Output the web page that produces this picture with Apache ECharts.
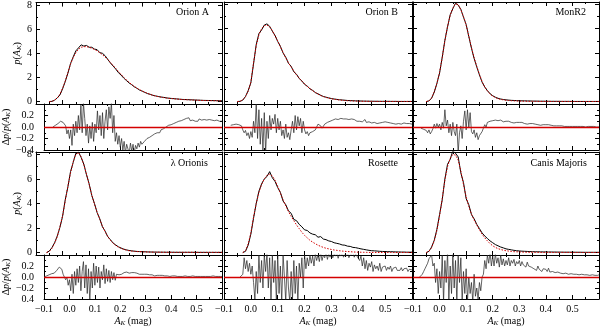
<!DOCTYPE html>
<html>
<head>
<meta charset="utf-8">
<script src="https://cdn.jsdelivr.net/npm/echarts@6/dist/echarts.min.js"></script>
<style>
html, body { margin: 0; padding: 0; background: #fff; }
#chart { width: 600px; height: 328px; }
</style>
</head>
<body>
<div id="chart"></div>
<script>
// extinction grid for the pdf panels (step 0.01)
var ak = [
  -0.1, -0.09, -0.08, -0.07, -0.06, -0.05, -0.04, -0.03, -0.02, -0.01,
  0, 0.01, 0.02, 0.03, 0.04, 0.05, 0.06, 0.07, 0.08, 0.09,
  0.1, 0.11, 0.12, 0.13, 0.14, 0.15, 0.16, 0.17, 0.18, 0.19,
  0.2, 0.21, 0.22, 0.23, 0.24, 0.25, 0.26, 0.27, 0.28, 0.29,
  0.3, 0.31, 0.32, 0.33, 0.34, 0.35, 0.36, 0.37, 0.38, 0.39,
  0.4, 0.41, 0.42, 0.43, 0.44, 0.45, 0.46, 0.47, 0.48, 0.49,
  0.5, 0.51, 0.52, 0.53, 0.54, 0.55, 0.56, 0.57, 0.58, 0.59,
  0.6
];
// extinction grid for the residual panels (step 0.005)
var akRes = [
  -0.1, -0.095, -0.09, -0.085, -0.08, -0.075, -0.07, -0.065, -0.06, -0.055,
  -0.05, -0.045, -0.04, -0.035, -0.03, -0.025, -0.02, -0.015, -0.01, -0.005,
  0, 0.005, 0.01, 0.015, 0.02, 0.025, 0.03, 0.035, 0.04, 0.045,
  0.05, 0.055, 0.06, 0.065, 0.07, 0.075, 0.08, 0.085, 0.09, 0.095,
  0.1, 0.105, 0.11, 0.115, 0.12, 0.125, 0.13, 0.135, 0.14, 0.145,
  0.15, 0.155, 0.16, 0.165, 0.17, 0.175, 0.18, 0.185, 0.19, 0.195,
  0.2, 0.205, 0.21, 0.215, 0.22, 0.225, 0.23, 0.235, 0.24, 0.245,
  0.25, 0.255, 0.26, 0.265, 0.27, 0.275, 0.28, 0.285, 0.29, 0.295,
  0.3, 0.305, 0.31, 0.315, 0.32, 0.325, 0.33, 0.335, 0.34, 0.345,
  0.35, 0.355, 0.36, 0.365, 0.37, 0.375, 0.38, 0.385, 0.39, 0.395,
  0.4, 0.405, 0.41, 0.415, 0.42, 0.425, 0.43, 0.435, 0.44, 0.445,
  0.45, 0.455, 0.46, 0.465, 0.47, 0.475, 0.48, 0.485, 0.49, 0.495,
  0.5, 0.505, 0.51, 0.515, 0.52, 0.525, 0.53, 0.535, 0.54, 0.545,
  0.55, 0.555, 0.56, 0.565, 0.57, 0.575, 0.58, 0.585, 0.59, 0.595,
  0.6
];

var names = ["Orion A", "Orion B", "MonR2", "\u03bb Orionis", "Rosette", "Canis Majoris"];

// ---- Orion A
var oriAData = [
  null, null, null, null, null, 0, 0.02, 0.12, 0.3, 0.55,
  1.05, 1.65, 2.35, 3.15, 3.7, 4.2, 4.45, 4.7, 4.6, 4.65,
  4.5, 4.5, 4.35, 4.3, 4.05, 4.0, 3.8, 3.5, 3.2, 2.95,
  2.7, 2.4, 2.2, 1.95, 1.75, 1.55, 1.4, 1.22, 1.1, 0.95,
  0.86, 0.76, 0.66, 0.6, 0.52, 0.47, 0.42, 0.38, 0.35, 0.31,
  0.28, 0.26, 0.24, 0.22, 0.2, 0.18, 0.17, 0.16, 0.15, 0.14,
  0.13, 0.12, 0.11, 0.1, 0.095, 0.09, 0.085, 0.08, 0.075, 0.07,
  0.065
];
var oriAFit = [
  null, null, null, null, null, 0, 0.02, 0.1, 0.3, 0.6,
  1.1, 1.7, 2.4, 3.1, 3.65, 4.05, 4.35, 4.5, 4.55, 4.55,
  4.5, 4.42, 4.32, 4.2, 4.05, 3.88, 3.7, 3.48, 3.25, 3.0,
  2.75, 2.5, 2.26, 2.02, 1.8, 1.6, 1.42, 1.26, 1.11, 0.98,
  0.87, 0.77, 0.68, 0.59, 0.52, 0.46, 0.41, 0.37, 0.33, 0.3,
  0.27, 0.25, 0.23, 0.21, 0.19, 0.17, 0.16, 0.15, 0.14, 0.13,
  0.12, 0.11, 0.1, 0.09, 0.085, 0.08, 0.075, 0.07, 0.065, 0.06,
  0.055
];
var oriARes = [
  null, null, null, null, null, null, null, 0, 0.02, 0.03,
  0.05, 0.06, 0.08, 0.1, 0.12, 0.08, 0.1, 0.02, -0.12, -0.05,
  -0.2, -0.05, -0.32, 0.05, -0.15, 0.1, -0.1, 0.2, -0.05, 0.38,
  -0.1, 0.42, 0.15, -0.15, 0.05, -0.28, 0.02, -0.2, 0.08, -0.25,
  0.05, -0.1, 0.28, -0.05, 0.2, -0.15, 0.25, -0.2, 0.1, 0.3,
  -0.05, 0.35, 0.15, 0.42, -0.1, 0.2, -0.25, -0.1, -0.3, -0.15,
  -0.35, -0.2, -0.4, -0.25, -0.45, -0.3, -0.38, -0.45, -0.28, -0.42,
  -0.3, -0.45, -0.32, -0.38, -0.28, -0.35, -0.25, -0.3, -0.28, -0.25,
  -0.25, -0.2, -0.22, -0.18, -0.2, -0.15, -0.17, -0.12, -0.14, -0.1,
  -0.08, -0.1, -0.05, -0.07, -0.03, -0.05, 0, -0.02, 0.03, 0.01,
  0.04, 0.02, 0.06, 0.04, 0.08, 0.05, 0.1, 0.07, 0.11, 0.09,
  0.13, 0.1, 0.15, 0.12, 0.16, 0.11, 0.14, 0.12, 0.15, 0.1,
  0.13, 0.1, 0.14, 0.11, 0.12, 0.09, 0.13, 0.1, 0.12, 0.11,
  0.13, 0.1, 0.12, 0.09, 0.11, 0.1, 0.12, 0.09, 0.1, 0.11,
  0.1
];

// ---- Orion B
var oriBData = [
  null, null, null, null, null, 0, 0.02, 0.12, 0.42, 0.9,
  1.55, 3.1, 4.7, 5.6, 5.9, 6.3, 6.4, 6.2, 5.8, 5.45,
  4.95, 4.55, 4.0, 3.65, 3.15, 2.9, 2.45, 2.25, 1.9, 1.7,
  1.42, 1.27, 1.05, 0.92, 0.74, 0.63, 0.52, 0.42, 0.36, 0.3,
  0.25, 0.21, 0.18, 0.15, 0.13, 0.11, 0.09, 0.08, 0.07, 0.06,
  0.05, 0.045, 0.04, 0.035, 0.03, 0.03, 0.025, 0.025, 0.02, 0.02,
  0.02, 0.02, 0.015, 0.015, 0.015, 0.01, 0.01, 0.01, 0.01, 0.01,
  0.01
];
var oriBFit = [
  null, null, null, null, null, 0, 0.03, 0.15, 0.4, 0.85,
  1.6, 3.2, 4.6, 5.5, 6.0, 6.25, 6.3, 6.15, 5.85, 5.4,
  5.0, 4.5, 4.05, 3.6, 3.2, 2.85, 2.5, 2.2, 1.92, 1.68,
  1.45, 1.25, 1.07, 0.9, 0.75, 0.62, 0.5, 0.41, 0.34, 0.28,
  0.23, 0.19, 0.16, 0.13, 0.11, 0.09, 0.07, 0.06, 0.05, 0.04,
  0.03, 0.025, 0.02, 0.02, 0.015, 0.015, 0.01, 0.01, 0.01, 0.01,
  0.01, 0.01, 0.01, 0.01, 0.01, 0.01, 0.01, 0.01, 0.01, 0.01,
  0.01
];
var oriBRes = [
  null, null, null, null, null, 0.03, 0.05, 0.04, 0.06, 0.05,
  0.07, 0.04, 0.06, 0.02, -0.05, -0.1, -0.06, -0.15, -0.1, -0.2,
  -0.08, -0.18, 0.1, -0.1, 0.4, -0.2, 0.3, -0.3, 0.15, -0.4,
  0.25, -0.45, 0.1, -0.2, 0.2, -0.05, 0.15, 0.05, 0.22, -0.1,
  0.15, -0.05, 0.1, -0.15, -0.05, -0.2, 0.05, -0.18, -0.1, -0.22,
  -0.05, 0.1, -0.1, 0.2, -0.05, 0.18, 0.02, 0.15, -0.1, 0.1,
  -0.05, -0.12, -0.08, -0.15, -0.1, -0.12, -0.08, -0.06, -0.05, -0.02,
  0.05, 0.08, 0.02, -0.02, 0, 0.05, 0.03, 0.08, 0.06, 0.1,
  0.08, 0.12, 0.1, 0.14, 0.11, 0.13, 0.1, 0.15, 0.12, 0.14,
  0.11, 0.14, 0.12, 0.13, 0.1, 0.14, 0.11, 0.13, 0.12, 0.1,
  0.13, 0.1, 0.12, 0.09, 0.11, 0.13, 0.08, 0.11, 0.09, 0.1,
  0.07, 0.1, 0.08, 0.11, 0.06, 0.09, 0.07, 0.1, 0.08, 0.06,
  0.09, 0.07, 0.08, 0.05, 0.07, 0.08, 0.06, 0.07, 0.05, 0.08,
  0.06, 0.07, 0.05, 0.06, 0.07, 0.05, 0.06, 0.04, 0.06, 0.05,
  0.05
];

// ---- MonR2
var monData = [
  null, null, null, null, null, 0, 0.05, 0.28, 0.78, 1.5,
  2.35, 3.65, 5.05, 6.15, 7.15, 7.65, 8.1, 7.95, 7.6, 6.95,
  6.35, 5.35, 4.4, 3.55, 2.85, 2.2, 1.6, 1.2, 0.9, 0.65,
  0.48, 0.36, 0.27, 0.21, 0.17, 0.14, 0.12, 0.1, 0.09, 0.08,
  0.07, 0.06, 0.06, 0.05, 0.05, 0.04, 0.04, 0.035, 0.03, 0.03,
  0.025, 0.025, 0.02, 0.02, 0.02, 0.02, 0.015, 0.015, 0.015, 0.015,
  0.01, 0.01, 0.01, 0.01, 0.01, 0.01, 0.01, 0.01, 0.01, 0.01,
  0.01
];
var monFit = [
  null, null, null, null, null, 0, 0.05, 0.3, 0.8, 1.5,
  2.4, 3.6, 5.0, 6.2, 7.1, 7.7, 8.05, 8.0, 7.55, 7.0,
  6.3, 5.4, 4.45, 3.6, 2.9, 2.25, 1.65, 1.2, 0.88, 0.62,
  0.45, 0.33, 0.24, 0.18, 0.14, 0.11, 0.09, 0.07, 0.06, 0.05,
  0.04, 0.035, 0.03, 0.025, 0.02, 0.02, 0.015, 0.015, 0.01, 0.01,
  0.01, 0.01, 0.01, 0.01, 0.01, 0.01, 0.01, 0.01, 0.01, 0.01,
  0.005, 0.005, 0.005, 0.005, 0.005, 0.005, 0.005, 0.005, 0.005, 0.005,
  0.005
];
var monRes = [
  null, null, null, null, null, null, -0.02, -0.05, -0.04, -0.07,
  -0.06, -0.1, -0.05, -0.12, -0.08, -0.03, 0.05, -0.02, 0.06, 0,
  0.05, -0.05, 0.08, -0.02, 0.3, 0.02, 0.12, -0.1, 0.05, -0.15,
  0.08, -0.08, -0.15, 0.05, -0.45, -0.1, 0.02, -0.2, 0.1, 0.28,
  -0.05, 0.3, 0, 0.25, -0.08, -0.12, -0.05, -0.18, -0.1, -0.22,
  -0.15, -0.18, -0.08, -0.02, 0.04, 0, 0.08, 0.05, 0.1, 0.09,
  0.11, 0.08, 0.12, 0.1, 0.11, 0.09, 0.12, 0.1, 0.09, 0.11,
  0.1, 0.08, 0.1, 0.09, 0.08, 0.1, 0.07, 0.09, 0.08, 0.07,
  0.08, 0.06, 0.08, 0.07, 0.06, 0.07, 0.05, 0.07, 0.06, 0.05,
  0.06, 0.04, 0.05, 0.06, 0.04, 0.05, 0.03, 0.05, 0.04, 0.03,
  0.04, 0.03, 0.04, 0.02, 0.03, 0.04, 0.02, 0.03, 0.02, 0.03,
  0.02, 0.01, 0.02, 0.03, 0.01, 0.02, 0.01, 0.02, 0.01, 0.02,
  0.01, 0.02, 0.01, 0, 0.01, 0.02, 0.01, 0, 0.01, 0.01,
  0, 0.01, 0.01, 0, 0.01, 0, 0.01, 0, 0, 0.01,
  0
];

// ---- lambda Orionis
var lamData = [
  null, null, null, null, 0, 0.12, 0.4, 0.8, 1.35, 2.05,
  2.95, 4.3, 5.35, 6.6, 7.35, 8.1, 8.2, 7.75, 7.2, 6.35,
  5.6, 4.65, 4.0, 3.25, 2.75, 2.1, 1.75, 1.3, 1.05, 0.78,
  0.62, 0.47, 0.37, 0.28, 0.22, 0.17, 0.14, 0.11, 0.09, 0.08,
  0.07, 0.06, 0.05, 0.045, 0.04, 0.035, 0.035, 0.03, 0.03, 0.025,
  0.025, 0.025, 0.02, 0.02, 0.02, 0.02, 0.02, 0.02, 0.02, 0.02,
  0.02, 0.015, 0.015, 0.015, 0.015, 0.015, 0.015, 0.015, 0.015, 0.015,
  0.015
];
var lamFit = [
  null, null, null, null, 0, 0.1, 0.35, 0.75, 1.3, 2.1,
  3.0, 4.2, 5.4, 6.5, 7.4, 8.0, 8.15, 7.8, 7.15, 6.4,
  5.55, 4.7, 3.95, 3.3, 2.7, 2.15, 1.7, 1.32, 1.0, 0.76,
  0.58, 0.44, 0.34, 0.26, 0.2, 0.15, 0.12, 0.1, 0.08, 0.07,
  0.06, 0.05, 0.045, 0.04, 0.035, 0.03, 0.03, 0.025, 0.025, 0.02,
  0.02, 0.02, 0.02, 0.02, 0.02, 0.02, 0.02, 0.02, 0.02, 0.02,
  0.015, 0.015, 0.015, 0.015, 0.015, 0.015, 0.015, 0.015, 0.015, 0.015,
  0.015
];
var lamRes = [
  0, 0.01, 0.02, 0.03, 0.04, 0.05, 0.06, 0.08, 0.07, 0.1,
  0.12, 0.15, 0.18, 0.2, 0.14, 0.05, 0.02, -0.05, 0, -0.15,
  -0.05, -0.25, 0.05, -0.3, 0.1, -0.15, 0.15, -0.1, 0.2, -0.25,
  0.1, 0.28, -0.2, 0.22, -0.3, 0.15, -0.45, 0.1, -0.2, 0.25,
  -0.15, 0.2, -0.1, 0.18, -0.2, 0.1, -0.05, 0.22, -0.12, 0.15,
  -0.08, 0.12, -0.1, 0.1, -0.05, 0.08, -0.06, 0.05, 0.02, 0.04,
  0.06, 0.05, 0.07, 0.08, 0.07, 0.09, 0.08, 0.07, 0.09, 0.08,
  0.07, 0.08, 0.06, 0.07, 0.06, 0.05, 0.06, 0.05, 0.04, 0.05,
  0.04, 0.05, 0.03, 0.04, 0.03, 0.04, 0.03, 0.02, 0.03, 0.03,
  0.02, 0.03, 0.02, 0.03, 0.02, 0.02, 0.03, 0.02, 0.02, 0.01,
  0.02, 0.02, 0.01, 0.02, 0.02, 0.01, 0.02, 0.01, 0.02, 0.01,
  0.01, 0.02, 0.01, 0.01, 0.02, 0.01, 0.01, 0.02, 0.01, 0.01,
  0.01, 0.01, 0.02, 0.01, 0.01, 0.01, 0.02, 0.01, 0.01, 0.01,
  0.01, 0.01, 0.01, 0.02, 0.01, 0.01, 0.01, 0.01, 0.02, 0.01,
  0.01
];

// ---- Rosette
var rosData = [
  null, null, null, null, null, null, null, 0, 0.1, 0.6,
  1.5, 2.8, 4.0, 5.0, 5.6, 6.0, 6.2, 6.6, 6.1, 5.8,
  5.3, 4.9, 4.2, 3.9, 3.4, 3.2, 2.7, 2.6, 2.3, 2.1,
  1.85, 1.8, 1.6, 1.5, 1.45, 1.25, 1.3, 1.1, 1.05, 0.95,
  0.9, 0.8, 0.75, 0.7, 0.62, 0.6, 0.52, 0.5, 0.42, 0.4,
  0.35, 0.3, 0.26, 0.22, 0.18, 0.15, 0.14, 0.12, 0.1, 0.09,
  0.08, 0.07, 0.07, 0.06, 0.05, 0.05, 0.04, 0.04, 0.03, 0.03,
  0.03
];
var rosFit = [
  null, null, null, null, null, null, null, 0, 0.15, 0.7,
  1.6, 2.9, 4.0, 4.9, 5.55, 6.0, 6.3, 6.4, 6.25, 5.9,
  5.4, 4.85, 4.3, 3.8, 3.35, 2.95, 2.6, 2.25, 1.95, 1.65,
  1.4, 1.2, 1.0, 0.85, 0.72, 0.6, 0.5, 0.42, 0.35, 0.3,
  0.25, 0.21, 0.18, 0.15, 0.12, 0.1, 0.08, 0.07, 0.05, 0.04,
  0.03, 0.025, 0.02, 0.015, 0.01, 0.01, 0.01, 0.005, 0.005, 0.005,
  0.005, 0.005, 0.005, 0.005, 0.005, 0.005, 0.005, 0.005, 0.005, 0.005,
  0.005
];
var rosRes = [
  null, null, null, null, null, null, null, null, null, null,
  null, null, 0, 0, 0.05, 0.35, 0.15, 0.3, 0.1, 0.25,
  0.05, 0.2, -0.1, -0.4, 0.1, -0.3, 0.4, -0.1, 0.3, -0.2,
  0.4, 0.1, 0.45, -0.2, 0.35, -0.45, 0.4, -0.1, 0.3, -0.45,
  0.4, -0.3, 0.2, -0.45, 0.4, 0, -0.45, 0.3, -0.2, -0.45,
  0.1, -0.4, 0.3, -0.3, 0.2, -0.45, 0.25, 0, 0.35, -0.2,
  0.4, 0.15, 0.35, 0.2, 0.4, 0.25, 0.38, 0.2, 0.42, 0.3,
  0.4, 0.28, 0.45, 0.3, 0.4, 0.35, 0.45, 0.32, 0.42, 0.36,
  0.45, 0.35, 0.42, 0.38, 0.45, 0.34, 0.42, 0.38, 0.45, 0.36,
  0.42, 0.38, 0.45, 0.35, 0.4, 0.37, 0.44, 0.36, 0.42, 0.38,
  0.4, 0.3, 0.38, 0.2, 0.35, 0.15, 0.3, 0.12, 0.25, 0.18,
  0.28, 0.1, 0.22, 0.15, 0.2, 0.12, 0.25, 0.1, 0.18, 0.15,
  0.2, 0.12, 0.18, 0.14, 0.2, 0.1, 0.16, 0.13, 0.18, 0.12,
  0.15, 0.12, 0.17, 0.11, 0.15, 0.13, 0.16, 0.1, 0.14, 0.12,
  0.13
];

// ---- Canis Majoris
var cmaData = [
  null, null, null, null, null, 0, 0.1, 0.45, 1.0, 1.9,
  3.1, 4.3, 6.0, 7.2, 7.6, 8.3, 8.1, 7.8, 6.5, 5.7,
  4.4, 3.9, 3.1, 2.75, 2.3, 1.95, 1.6, 1.35, 1.15, 0.95,
  0.8, 0.65, 0.55, 0.45, 0.38, 0.3, 0.26, 0.22, 0.18, 0.15,
  0.13, 0.11, 0.1, 0.09, 0.08, 0.07, 0.065, 0.06, 0.055, 0.05,
  0.05, 0.045, 0.045, 0.04, 0.04, 0.035, 0.035, 0.03, 0.03, 0.03,
  0.03, 0.025, 0.025, 0.025, 0.02, 0.02, 0.02, 0.02, 0.02, 0.02,
  0.02
];
var cmaFit = [
  null, null, null, null, null, 0, 0.1, 0.4, 0.95, 1.8,
  3.0, 4.4, 5.9, 7.0, 7.7, 8.0, 7.95, 7.55, 6.65, 5.55,
  4.55, 3.75, 3.15, 2.65, 2.25, 1.85, 1.5, 1.2, 0.95, 0.73,
  0.55, 0.42, 0.32, 0.25, 0.19, 0.15, 0.12, 0.09, 0.07, 0.06,
  0.05, 0.04, 0.03, 0.025, 0.02, 0.02, 0.015, 0.015, 0.01, 0.01,
  0.01, 0.01, 0.01, 0.01, 0.01, 0.01, 0.01, 0.01, 0.01, 0.01,
  0.005, 0.005, 0.005, 0.005, 0.005, 0.005, 0.005, 0.005, 0.005, 0.005,
  0.005
];
var cmaRes = [
  null, null, null, null, null, 0, 0.02, 0.05, 0.1, 0.15,
  0.2, 0.25, 0.33, 0.3, 0.4, 0.2, 0.25, -0.1, 0.15, -0.3,
  0.1, -0.2, 0.4, -0.45, 0.3, -0.1, 0.45, -0.4, 0.2, -0.3,
  0.45, -0.2, 0.3, -0.45, 0.4, -0.1, 0.35, -0.45, 0.1, -0.3,
  0.15, -0.45, 0, -0.3, -0.1, -0.45, 0.05, -0.35, -0.2, -0.4,
  -0.1, -0.25, 0, 0.05, 0.3, 0.15, 0.4, 0.25, 0.45, 0.2,
  0.38, 0.2, 0.42, 0.25, 0.35, 0.18, 0.4, 0.22, 0.33, 0.2,
  0.3, 0.22, 0.35, 0.2, 0.3, 0.25, 0.32, 0.2, 0.28, 0.24,
  0.3, 0.2, 0.28, 0.22, 0.25, 0.18, 0.27, 0.2, 0.22, 0.18,
  0.2, 0.15, 0.18, 0.12, 0.2, 0.14, 0.16, 0.1, 0.15, 0.12,
  0.14, 0.1, 0.16, 0.09, 0.12, 0.1, 0.13, 0.08, 0.11, 0.09,
  0.1, 0.07, 0.09, 0.06, 0.08, 0.07, 0.09, 0.05, 0.07, 0.06,
  0.07, 0.05, 0.06, 0.05, 0.07, 0.04, 0.06, 0.05, 0.05, 0.04,
  0.05, 0.04, 0.05, 0.03, 0.05, 0.04, 0.04, 0.03, 0.04, 0.03,
  0.04
];

var pdfMajor = [0, 2, 4, 6, 8];
var pdfMinor = [1, 3, 5, 7];

var panels = [
  { data: oriAData, fit: oriAFit, res: oriARes },
  { data: oriBData, fit: oriBFit, res: oriBRes },
  { data: monData, fit: monFit, res: monRes },
  { data: lamData, fit: lamFit, res: lamRes },
  { data: rosData, fit: rosFit, res: rosRes },
  { data: cmaData, fit: cmaFit, res: cmaRes },
];

var FONT = "'Liberation Serif', 'DejaVu Serif', serif";
var cols = [
  { left: 36, width: 186 },
  { left: 224, width: 188 },
  { left: 413, width: 186 },
];
var rows = [
  { top: 2, h: 102, rtop: 104, rh: 46 },
  { top: 152, h: 103, rtop: 255, rh: 45 },
];
var titlePos = [
  { right: 391, top: 7 }, { right: 202, top: 7 }, { right: 14, top: 7 },
  { right: 392, top: 158 }, { right: 202, top: 158 }, { right: 13, top: 158 },
];

var rich = {
  i: { fontFamily: FONT, fontStyle: "italic", fontSize: 10, color: "#000", lineHeight: 12 },
  n: { fontFamily: FONT, fontSize: 10, color: "#000", lineHeight: 12 },
  s: { fontFamily: FONT, fontStyle: "italic", fontSize: 7, color: "#000", lineHeight: 6, verticalAlign: "bottom" },
};

function zip(xs, ys) {
  var out = [];
  for (var i = 0; i < xs.length; i++) {
    out.push([xs[i], ys[i]]);
  }
  return out;
}

function fmtX(v) {
  return (Math.round(v * 10) / 10).toFixed(1).replace("-", "\u2212");
}

var grid = [], xAxis = [], yAxis = [], series = [], title = [];
var lineBlack = { color: "#000", width: 1 };

function xAx(g, pos, labels, withName) {
  return {
    type: "value", gridIndex: g, position: pos,
    min: -0.1, max: 0.6, interval: 0.1,
    axisLine: { show: true, onZero: false, lineStyle: lineBlack },
    axisTick: { show: true, inside: true, length: 4, lineStyle: lineBlack },
    minorTick: { show: true, splitNumber: 2, length: 2, lineStyle: lineBlack },
    splitLine: { show: false },
    axisLabel: {
      show: labels, showMaxLabel: false, formatter: fmtX, margin: 5,
      fontFamily: FONT, fontSize: 10, color: "#000",
    },
    name: withName ? "{i|A}{s|K}{n| (mag)}" : "",
    nameLocation: "middle", nameGap: 16,
    nameTextStyle: { rich: rich },
  };
}

function yPdf(g, pos, vals, len, labels, withName, line) {
  return {
    type: "value", gridIndex: g, position: pos,
    min: -0.2, max: 8.2,
    axisLine: { show: line, onZero: false, lineStyle: lineBlack },
    axisTick: { show: true, inside: true, length: len, customValues: vals, lineStyle: lineBlack },
    splitLine: { show: false },
    axisLabel: {
      show: labels, customValues: pdfMajor, margin: 4,
      fontFamily: FONT, fontSize: 10, color: "#000",
    },
    name: withName ? "{i|p}{n|(}{i|A}{s|K}{n|)}" : "",
    nameLocation: "middle", nameGap: 11, nameRotate: 90,
    nameTextStyle: { rich: rich },
  };
}

function yRes(g, pos, labels, withName, row) {
  return {
    type: "value", gridIndex: g, position: pos,
    min: -0.4, max: 0.4, interval: 0.2,
    axisLine: { show: true, onZero: false, lineStyle: lineBlack },
    axisTick: { show: true, inside: true, length: 4, lineStyle: lineBlack },
    minorTick: { show: true, splitNumber: 2, length: 2, lineStyle: lineBlack },
    splitLine: { show: false },
    axisLabel: {
      show: labels, showMaxLabel: false, margin: 10,
      fontFamily: FONT, fontSize: 10, color: "#000",
      formatter: function (v) {
        var s = (Math.round(v * 10) / 10).toFixed(1);
        if (row === 1 && s === "-0.4") return "0.4";
        return s.replace("-", "\u2212");
      },
    },
    name: withName ? "{n|\u0394}{i|p}{n|/}{i|p}{n|(}{i|A}{s|K}{n|)}" : "",
    nameLocation: "middle", nameGap: 25, nameRotate: 90,
    nameTextStyle: { rich: rich },
  };
}

panels.forEach(function (p, k) {
  var col = k % 3, row = Math.floor(k / 3);
  var c = cols[col], r = rows[row];
  var gm = grid.length;
  grid.push({ left: c.left, width: c.width, top: r.top, height: r.h });
  grid.push({ left: c.left, width: c.width, top: r.rtop, height: r.rh });
  var gr = gm + 1;

  var xm = xAxis.length;
  xAxis.push(xAx(gm, "bottom", false, false), xAx(gm, "top", false, false));
  var xr = xAxis.length;
  xAxis.push(xAx(gr, "bottom", row === 1, row === 1), xAx(gr, "top", false, false));

  var ym = yAxis.length;
  yAxis.push(
    yPdf(gm, "left", pdfMajor, 4, col === 0, col === 0, true),
    yPdf(gm, "left", pdfMinor, 2, false, false, false),
    yPdf(gm, "right", pdfMajor, 4, false, false, true),
    yPdf(gm, "right", pdfMinor, 2, false, false, false)
  );
  var yr = yAxis.length;
  yAxis.push(yRes(gr, "left", col === 0, col === 0, row), yRes(gr, "right", false, false, row));

  title.push({
    text: names[k], right: titlePos[k].right, top: titlePos[k].top, padding: 0,
    textStyle: { fontFamily: FONT, fontSize: 10, fontWeight: "normal", color: "#000" },
  });

  series.push({
    type: "line", xAxisIndex: xm, yAxisIndex: ym, data: zip(ak, p.data),
    showSymbol: false, lineStyle: { color: "#000", width: 1 }, z: 2,
  });
  series.push({
    type: "line", xAxisIndex: xm, yAxisIndex: ym, data: zip(ak, p.fit),
    showSymbol: false, lineStyle: { color: "#d40000", width: 1, type: [1.5, 1.5] }, z: 3,
  });
  series.push({
    type: "line", xAxisIndex: xr, yAxisIndex: yr, data: zip(akRes, p.res),
    showSymbol: false, lineStyle: { color: "#222", width: 0.7 }, z: 2,
    markLine: {
      silent: true, symbol: ["none", "none"], label: { show: false },
      lineStyle: { color: "#d40000", width: 1.3, type: "solid" },
      data: [{ yAxis: 0 }],
      z: 4,
    },
  });
});

var myChart = echarts.init(document.getElementById("chart"), null, { renderer: "canvas" });
var option = {
  animation: false,
  backgroundColor: "#fff",
  title: title,
  grid: grid,
  xAxis: xAxis,
  yAxis: yAxis,
  series: series,
};
option && myChart.setOption(option);
</script>
</body>
</html>
